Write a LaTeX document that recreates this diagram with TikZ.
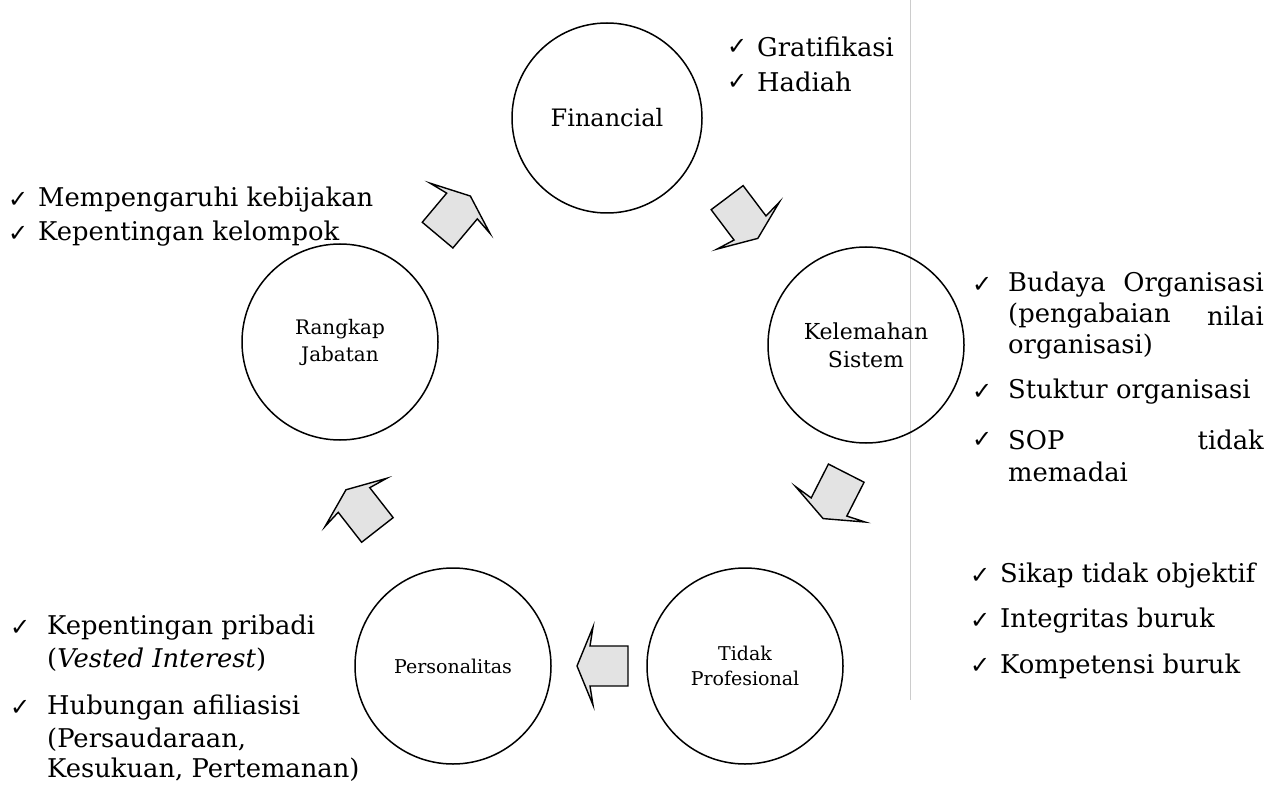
\documentclass[tikz,border=0pt]{standalone}
\usepackage{fontspec}
\setmainfont{DejaVu Serif}
\newfontfamily\symfont{DejaVu Sans}
\begin{document}
\begin{tikzpicture}[x=1pt,y=-1pt,
  circ/.style={draw,line width=1.5pt,circle,minimum size=196pt,inner sep=0pt,font=\fontsize{21}{27}\selectfont,align=center},
  small/.style={font=\fontsize{19}{25}\selectfont},
  item/.style={anchor=west,inner sep=0pt,font=\fontsize{25.8}{30}\selectfont},
  chk/.style={anchor=west,inner sep=0pt,font=\symfont\fontsize{24}{26}\selectfont},
  arrowline/.style={draw,line width=1.4pt,fill=gray!22,line join=miter},
  blockarrow/.pic={\path[arrowline] (-38,-20) -- (0,-20) -- (-3,-39) -- (13,0) -- (-3,39) -- (0,20) -- (-38,20) -- cycle;}]
\useasboundingbox (0,0) rectangle (1268,786);
\draw[gray!40,line width=0.8pt] (910,0) -- (910,700);
% circles
\node[circ,minimum size=190pt,font=\fontsize{24}{28}\selectfont] (F) at (607,118) {Financial};
\node[circ,font=\fontsize{22}{28}\selectfont] (K) at (866,345) {Kelemahan\\Sistem};
\node[circ,small] (T) at (745,666) {Tidak\\Profesional};
\node[circ,small] (P) at (453,666) {Personalitas};
\node[circ,font=\fontsize{20}{27}\selectfont] (R) at (340,342) {Rangkap\\Jabatan};
% block arrows
\pic[rotate=50] at (462,206) {blockarrow};
\pic[rotate=-53] at (750,228) {blockarrow};
\pic[rotate=-117] at (829,507) {blockarrow};
\pic[rotate=180] at (590,666) {blockarrow};
\pic[rotate=128] at (354,500) {blockarrow};
% Financial items
\node[chk] (c1) at (727,47) {✓};
\node[item] (t1) at (757,47) {Gratifikasi};
\node[chk] (c2) at (727,82) {✓};
\node[item] (t2) at (757,82) {Hadiah};
% Rangkap items
\node[chk] (c3) at (8,200) {✓};
\node[item] (t3) at (38,200) {Mempengaruhi kebijakan};
\node[chk] (c4) at (8,234) {✓};
\node[item] (t4) at (38,234) {Kepentingan kelompok};
% Kelemahan items
\node[chk] (c5) at (972,285) {✓};
\node[item] (t5a) at (1008,285) {Budaya};
\node[item,anchor=east] (t5b) at (1264,285) {Organisasi};
\node[item] (t5c) at (1008,316) {(pengabaian};
\node[item,anchor=east] (t5d) at (1264,316) {nilai};
\node[item] (t5e) at (1008,347) {organisasi)};
\node[chk] (c6) at (972,392) {✓};
\node[item] (t6) at (1008,392) {Stuktur organisasi};
\node[chk] (c7) at (972,440) {✓};
\node[item] (t7a) at (1008,440) {SOP};
\node[item,anchor=east] (t7b) at (1264,440) {tidak};
\node[item] (t7c) at (1008,472) {memadai};
% Tidak Profesional items
\node[chk] (c8) at (970,576) {✓};
\node[item] (t8) at (1000,576) {Sikap tidak objektif};
\node[chk] (c9) at (970,621) {✓};
\node[item] (t9) at (1000,621) {Integritas buruk};
\node[chk] (c10) at (970,666) {✓};
\node[item] (t10) at (1000,666) {Kompetensi buruk};
% Personalitas items
\node[chk] (c11) at (10,628) {✓};
\node[item] (t11a) at (47,628) {Kepentingan pribadi};
\node[item] (t11b) at (47,660) {(\textit{Vested Interest})};
\node[chk] (c12) at (10,708) {✓};
\node[item] (t12a) at (47,708) {Hubungan afiliasisi};
\node[item] (t12b) at (47,740) {(Persaudaraan,};
\node[item] (t12c) at (47,770) {Kesukuan, Pertemanan)};
\end{tikzpicture}
\end{document}
